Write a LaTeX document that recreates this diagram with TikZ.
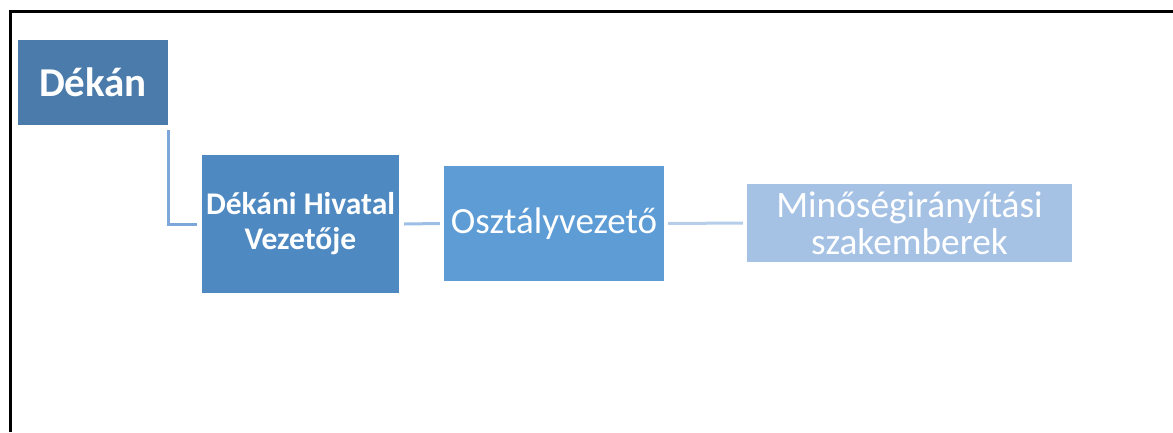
\documentclass[tikz,border=0pt]{standalone}
\usepackage{fontspec}
\setmainfont{Carlito}
\usepackage{tikz}
\usetikzlibrary{positioning}

\definecolor{dekanblue}{HTML}{4A7BAB}
\definecolor{hivatalblue}{HTML}{4F89C1}
\definecolor{osztalyblue}{HTML}{5E9CD5}
\definecolor{szakblue}{HTML}{A5C2E5}
\definecolor{linkdark}{HTML}{7EA7D9}
\definecolor{linkmid}{HTML}{9EBFE5}
\definecolor{linklight}{HTML}{B6CEEA}

\begin{document}
\begin{tikzpicture}[x=1pt, y=-1pt,
	orgbox/.style={inner sep=0pt, align=center, text=white},
	link/.style={line width=3pt}]
	\useasboundingbox (0,0) rectangle (1173,432);
	\draw[line width=3pt] (10,432) |- (1173,11);
	\node[orgbox, fill=dekanblue, minimum width=150pt, minimum height=85pt,
		font=\fontsize{41}{46}\selectfont\bfseries] (dekan) at (93,82.5) {Dékán};
	\node[orgbox, fill=hivatalblue, minimum width=197pt, minimum height=138pt,
		font=\fontsize{31.5}{35}\selectfont\bfseries] (hivatal) at (300.5,224) {Dékáni Hivatal\\Vezetője};
	\node[orgbox, fill=osztalyblue, minimum width=220pt, minimum height=115pt,
		font=\fontsize{37}{40}\selectfont] (osztaly) at (554,223.5) {Osztályvezető};
	\node[orgbox, fill=szakblue, minimum width=325pt, minimum height=78pt,
		font=\fontsize{37.3}{37}\selectfont] (szak) at (909.5,223) {Minőségirányítási\\szakemberek};
	\draw[link, linkdark] ([yshift=-5pt]dekan.south east) |- ([xshift=-5pt]hivatal.west);
	\draw[link, linkmid] ([xshift=5pt]hivatal.east) -- ([xshift=-4pt]osztaly.west);
	\draw[link, linklight] ([xshift=4pt]osztaly.east) -- ([xshift=-4pt]szak.west);
\end{tikzpicture}
\end{document}
